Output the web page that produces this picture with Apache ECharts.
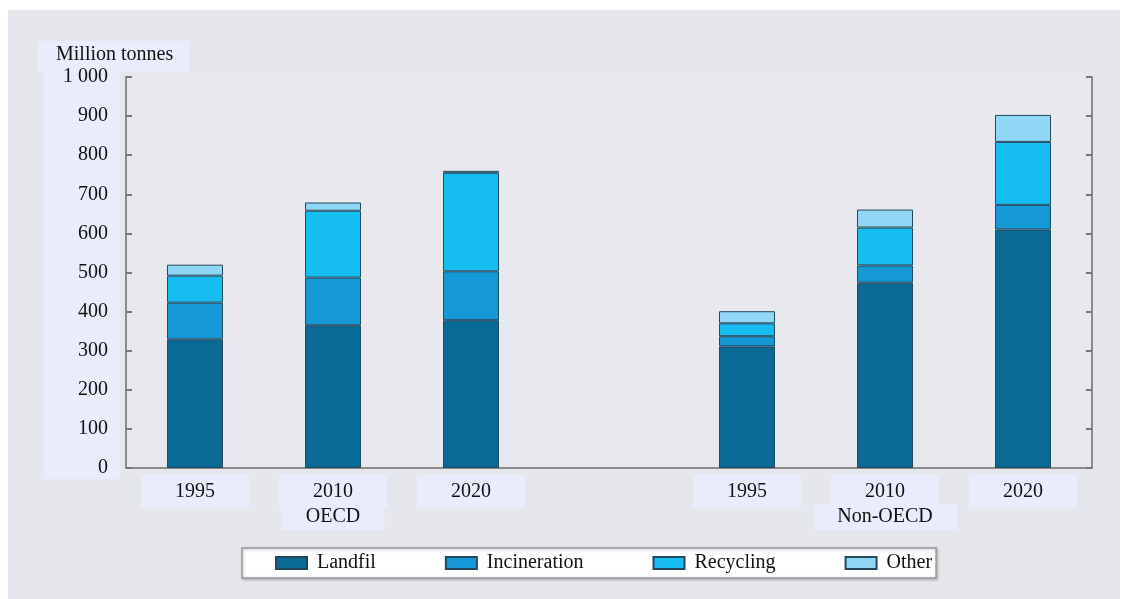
<!DOCTYPE html>
<html>
<head>
<meta charset="utf-8">
<script src="https://cdn.jsdelivr.net/npm/echarts@6/dist/echarts.min.js"></script>
<style>
  html, body { margin: 0; padding: 0; background: #ffffff; }
  #panel { position: absolute; left: 8px; top: 10px; width: 1112px; height: 589px; background: #e5e7ec; }
  #namebox { position: absolute; left: 37px; top: 41px; width: 152px; height: 31px; background: #e9edfb; }
  #tickbox { position: absolute; left: 44px; top: 72px; width: 76px; height: 407px; background: #e9edfb; }
  #plotbg { position: absolute; left: 127px; top: 77px; width: 964px; height: 391px; background: #e8e8ef; }
  #chart { position: absolute; left: 0; top: 0; width: 1128px; height: 599px; }
</style>
</head>
<body>
<div id="panel"></div>
<div id="namebox"></div>
<div id="tickbox"></div>
<div id="plotbg"></div>
<div id="chart"></div>
<script>
// ---- data (million tonnes) ----
const categories = ['1995', '2010', '2020', '', '1995', '2010', '2020'];
const groupLabels = ['', 'OECD', '', '', '', 'Non-OECD', ''];
const landfil      = [329, 365, 378, null, 311, 474, 610];
const incineration = [ 94, 122, 125, null,  26,  44,  63];
const recycling    = [ 69, 171, 252, null,  33,  97, 161];
const other        = [ 28,  21,   5, null,  31,  46,  69];
const seriesNames  = ['Landfil', 'Incineration', 'Recycling', 'Other'];
const yAxisName    = 'Million tonnes';

const colors = ['#0a6a96', '#1499d6', '#16bdf0', '#8fd7f5'];
const FONT = '"Liberation Serif", "DejaVu Serif", serif';
const FS = 20;

const chart = echarts.init(document.getElementById('chart'), null, { renderer: 'canvas' });

function fmtThousands(v) {
  return String(v).replace(/\B(?=(\d{3})+(?!\d))/g, ' ');
}

const seriesData = [landfil, incineration, recycling, other];

const option = {
  backgroundColor: 'transparent',
  animation: false,
  textStyle: { fontFamily: FONT, color: '#111' },
  graphic: [{
    type: 'text',
    left: 56, top: 45,
    style: { text: yAxisName, font: FS + 'px ' + FONT, fill: '#111' }
  }],
  legend: {
    data: seriesNames,
    left: 242, top: 548,
    icon: 'rect',
    itemWidth: 31, itemHeight: 12,
    itemGap: 69,
    padding: [5, 4, 5, 33],
    backgroundColor: '#ffffff',
    borderColor: '#9a9a9a',
    borderWidth: 1.5,
    shadowColor: 'rgba(0,0,0,0.25)',
    shadowBlur: 3, shadowOffsetX: 1, shadowOffsetY: 1,
    textStyle: { fontFamily: FONT, fontSize: FS, color: '#111', padding: [0, 0, 0, 5] },
    selectedMode: false
  },
  grid: { left: 126, right: 36, top: 77, bottom: 131, containLabel: false },
  xAxis: {
    type: 'category',
    data: categories,
    axisLine: { show: true, lineStyle: { color: '#8a8a8a', width: 2 } },
    axisTick: { show: false },
    axisLabel: {
      interval: 0,
      margin: 8,
      formatter: function (v, i) {
        if (!v) return '';
        const g = groupLabels[i];
        return '{y|' + v + '}\n' + (g ? '{g|' + g + '}' : '{e| }');
      },
      rich: {
        y: { fontFamily: FONT, fontSize: FS, color: '#111', lineHeight: 31, backgroundColor: '#e9edfb', padding: [7, 34, 7, 34] },
        g: { fontFamily: FONT, fontSize: FS, color: '#111', lineHeight: 20, backgroundColor: '#e9edfb', padding: [3, 24, 3, 24] },
        e: { fontSize: FS, lineHeight: 20, padding: [3, 0, 3, 0] }
      }
    }
  },
  yAxis: [{
    type: 'value',
    min: 0, max: 1000, interval: 100,
    position: 'left',
    axisLine: { show: true, lineStyle: { color: '#8a8a8a', width: 2 } },
    axisTick: { show: true, inside: true, length: 6, lineStyle: { color: '#777', width: 2 } },
    splitLine: { show: false },
    axisLabel: { margin: 18, fontFamily: FONT, fontSize: FS, color: '#111', formatter: fmtThousands }
  }, {
    type: 'value',
    min: 0, max: 1000, interval: 100,
    position: 'right',
    axisLine: { show: true, lineStyle: { color: '#8a8a8a', width: 2 } },
    axisTick: { show: true, inside: true, length: 6, lineStyle: { color: '#777', width: 2 } },
    splitLine: { show: false },
    axisLabel: { show: false }
  }],
  series: seriesNames.map(function (name, k) {
    return {
      name: name,
      type: 'bar',
      stack: 'total',
      yAxisIndex: 0,
      barWidth: 56,
      data: seriesData[k],
      itemStyle: { color: colors[k], borderColor: '#24485c', borderWidth: 1 }
    };
  })
};

chart.setOption(option);
</script>
</body>
</html>
